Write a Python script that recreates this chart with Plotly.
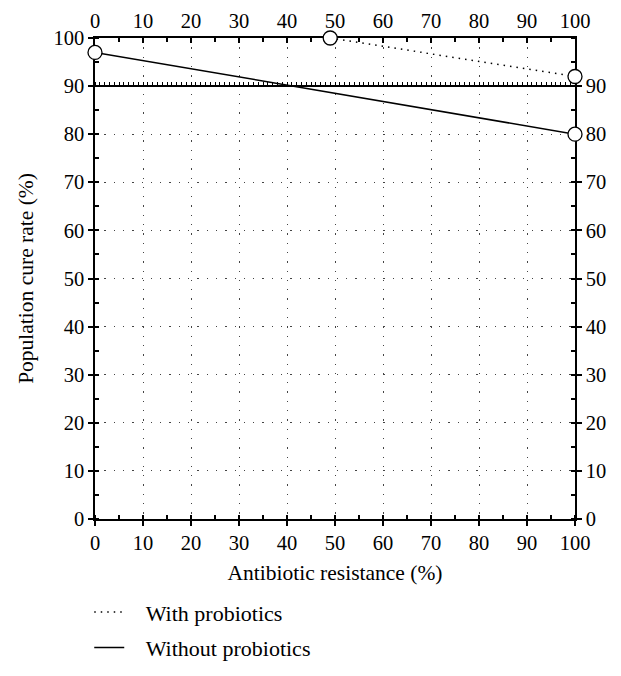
import plotly.graph_objects as go

# Data
with_x = [49, 100]
with_y = [100, 92]
without_x = [0, 100]
without_y = [97, 80]
x_ticks = [0, 10, 20, 30, 40, 50, 60, 70, 80, 90, 100]
y_ticks = [0, 10, 20, 30, 40, 50, 60, 70, 80, 90, 100]
y_ticks_right = [0, 10, 20, 30, 40, 50, 60, 70, 80, 90]
ref_level = 90

FONT = "Liberation Serif"
NB = "\u00a0\u00a0\u00a0"

fig = go.Figure()

marker = dict(symbol="circle", size=14, color="white", line=dict(color="black", width=1.3))

fig.add_trace(go.Scatter(
    x=with_x, y=with_y, mode="lines", name=NB + "With probiotics",
    line=dict(color="black", width=1.5, dash="1.5px,5px"),
    legendgroup="a", cliponaxis=False))
fig.add_trace(go.Scatter(
    x=without_x, y=without_y, mode="lines", name=NB + "Without probiotics",
    line=dict(color="black", width=1.5),
    legendgroup="b", cliponaxis=False))
fig.add_trace(go.Scatter(x=with_x, y=with_y, mode="markers", marker=marker,
                         showlegend=False, cliponaxis=False))
fig.add_trace(go.Scatter(x=without_x, y=without_y, mode="markers", marker=marker,
                         showlegend=False, cliponaxis=False))

# helper traces to activate the extra axes
fig.add_trace(go.Scatter(x=[0, 100], y=[0, 100], xaxis="x2", yaxis="y", mode="none",
                         showlegend=False, hoverinfo="skip"))
fig.add_trace(go.Scatter(x=[0, 100], y=[0, 100], xaxis="x", yaxis="y2", mode="none",
                         showlegend=False, hoverinfo="skip"))
fig.add_trace(go.Scatter(x=[0, 100], y=[0, 100], xaxis="x3", yaxis="y", mode="none",
                         showlegend=False, hoverinfo="skip"))

tickfont = dict(family=FONT, size=20.5, color="black")
grid = dict(showgrid=True, gridcolor="#444", gridwidth=1.3, griddash="1.3px,8px")
minor = dict(dtick=5, ticks="inside", ticklen=4, tickwidth=1.5, tickcolor="black")

fig.update_layout(
    width=613, height=668,
    margin=dict(l=87, r=46, t=30, b=157, autoexpand=False),
    plot_bgcolor="white", paper_bgcolor="white",
    font=dict(family=FONT, size=20, color="black"),
    xaxis=dict(range=[0, 100], tickvals=x_ticks, showline=True, linecolor="black", linewidth=1.5,
               ticks="outside", ticklen=5, tickwidth=1.5, tickcolor="black", automargin=False,
               minor=minor, zeroline=False, tickfont=tickfont, layer="below traces",
               title=dict(text="Antibiotic resistance (%)", font=dict(family=FONT, size=21.5), standoff=12),
               **grid),
    xaxis2=dict(range=[0, 100], overlaying="x", side="top", anchor="y", tickvals=x_ticks,
                showline=True, linecolor="black", linewidth=1.5, automargin=False,
                ticks="inside", ticklen=5, tickwidth=1.5, tickcolor="black", layer="below traces",
                minor=minor, showgrid=False, zeroline=False, tickfont=tickfont),
    xaxis3=dict(range=[0, 100], overlaying="x", side="top", anchor="free", position=ref_level / 100,
                showline=True, linecolor="black", linewidth=1.8, automargin=False,
                ticks="outside", ticklen=3, tickwidth=1.2, tickcolor="black", dtick=1,
                layer="below traces",
                showticklabels=False, showgrid=False, zeroline=False),
    yaxis=dict(range=[0, 100], tickvals=y_ticks, showline=True, linecolor="black", linewidth=1.5,
               ticks="outside", ticklen=5, tickwidth=1.5, tickcolor="black", automargin=False,
               minor=minor, zeroline=False, tickfont=tickfont, layer="below traces",
               title=dict(text="Population cure rate (%)", font=dict(family=FONT, size=21.5), standoff=14),
               **grid),
    yaxis2=dict(range=[0, 100], overlaying="y", side="right", anchor="x", tickvals=y_ticks_right,
                showline=True, linecolor="black", linewidth=1.5, automargin=False,
                ticks="outside", ticklen=5, tickwidth=1.5, tickcolor="black", layer="below traces",
                minor=minor, showgrid=False, zeroline=False, tickfont=tickfont),
    showlegend=True,
    legend=dict(x=-0.012, y=-0.15, xanchor="left", yanchor="top", orientation="v",
                traceorder="grouped", tracegroupgap=4, font=dict(family=FONT, size=22),
                bgcolor="rgba(0,0,0,0)"),
)

fig.write_html("out.html")
